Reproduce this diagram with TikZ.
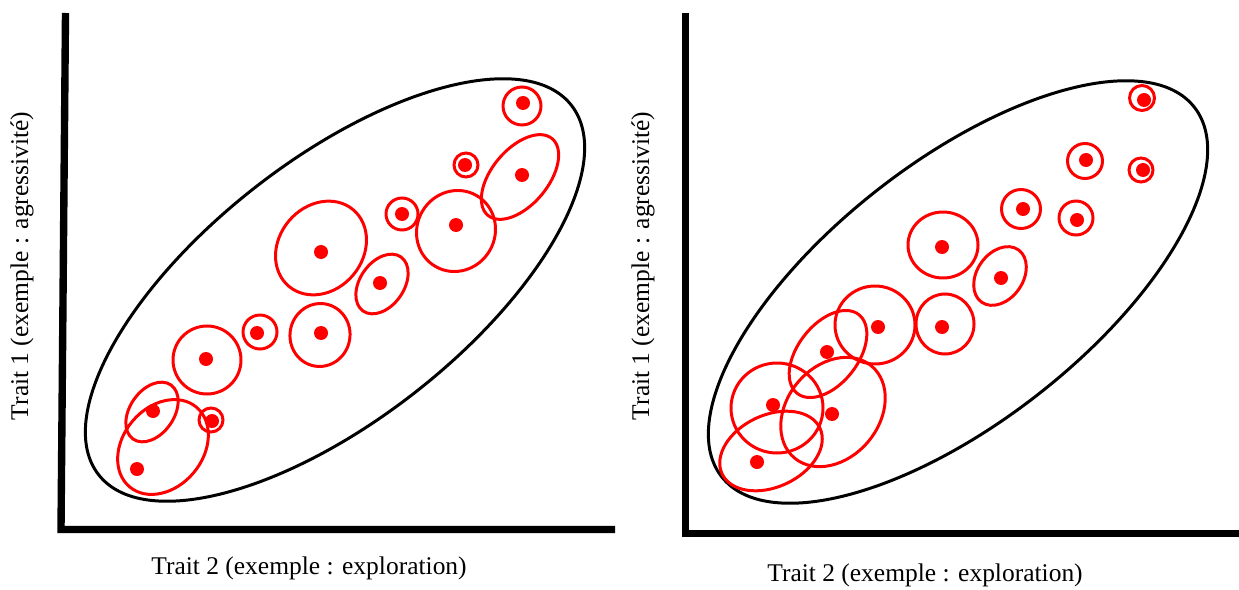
\documentclass[tikz,border=0pt]{standalone}
\usepackage{fontspec}
\setmainfont{Liberation Serif}
\usepackage{xcolor}
\usepackage{tikz}
\usetikzlibrary{calc,positioning}
\definecolor{rouge}{HTML}{FF0000}
\definecolor{noir}{HTML}{000000}
\tikzset{
  axe/.style={line width=4.2pt,noir,line join=miter},
  nuage/.style={line width=1.7pt,noir},
  indiv/.style={line width=1.7pt,rouge},
  pt/.style={fill=rouge},
  lbl/.style={font=\fontsize{14.5}{16}\selectfont,inner sep=0pt}
}

\begin{document}
\begin{tikzpicture}[x=0.02cm,y=0.02cm]
\useasboundingbox (0,0) rectangle (1239,589);
% panneau gauche
\draw[axe] (65.5,576) -- (61,59.5) -- (615,59.5);
\draw[nuage] (335,299) ellipse[x radius=300,y radius=130,rotate=38];
\draw[indiv] (522,483) circle (19);   \fill[pt] (523,486) circle (7);
\draw[indiv] (520,412) ellipse[x radius=50,y radius=28,rotate=50]; \fill[pt] (522,414) circle (7);
\draw[indiv] (466,424) circle (12);   \fill[pt] (465,424) circle (7);
\draw[indiv] (402,375) circle (16);   \fill[pt] (402,375) circle (7);
\draw[indiv] (456,358) ellipse[x radius=41,y radius=39,rotate=60]; \fill[pt] (456,364) circle (7);
\draw[indiv] (321,341) ellipse[x radius=50,y radius=42,rotate=50]; \fill[pt] (321,337) circle (7);
\draw[indiv] (382,305) ellipse[x radius=33,y radius=22,rotate=55]; \fill[pt] (380,306) circle (7);
\draw[indiv] (320,254) ellipse[x radius=31.5,y radius=30,rotate=80]; \fill[pt] (321,256) circle (7);
\draw[indiv] (260,257) circle (17);   \fill[pt] (257,256) circle (7);
\draw[indiv] (207,229) circle (34);   \fill[pt] (206,230) circle (7);
\draw[indiv] (152,177) ellipse[x radius=33,y radius=22,rotate=55]; \fill[pt] (153,178) circle (7);
\draw[indiv] (211,169) circle (12);   \fill[pt] (212,168) circle (7);
\draw[indiv] (163,142) ellipse[x radius=52,y radius=40,rotate=50]; \fill[pt] (137,120) circle (7);
\node[lbl,rotate=90] (traitA1) at (22,323) {Trait 1 (exemple~: agressivité)};
\node[lbl] (traitB1) at (309,21) {Trait 2 (exemple~: exploration)};
% panneau droit
\draw[axe] (685.5,576) -- (685.5,55.5) -- (1239,55.5);
\draw[nuage] (958,297) ellipse[x radius=300,y radius=130,rotate=38];
\draw[indiv] (1142,491) circle (12.5); \fill[pt] (1144,489) circle (7);
\draw[indiv] (1141,419) circle (12);   \fill[pt] (1143,419) circle (7);
\draw[indiv] (1085,428) circle (17.5); \fill[pt] (1086,429) circle (7);
\draw[indiv] (1021,380) circle (19.5); \fill[pt] (1023,380) circle (7);
\draw[indiv] (1076,371) circle (17);   \fill[pt] (1077,369) circle (7);
\draw[indiv] (943,344) ellipse[x radius=35,y radius=33]; \fill[pt] (942,342) circle (7);
\draw[indiv] (1000,313) ellipse[x radius=32,y radius=23,rotate=55]; \fill[pt] (1001,311) circle (7);
\draw[indiv] (945,265) ellipse[x radius=30,y radius=29,rotate=90]; \fill[pt] (942,262) circle (7);
\draw[indiv] (875,264) ellipse[x radius=40,y radius=39]; \fill[pt] (878,262) circle (7);
\draw[indiv] (828,235) ellipse[x radius=50,y radius=30,rotate=52]; \fill[pt] (827,237) circle (7);
\draw[indiv] (777,181) ellipse[x radius=46,y radius=45]; \fill[pt] (773,184) circle (7);
\draw[indiv] (833,177) ellipse[x radius=60,y radius=46,rotate=50]; \fill[pt] (832,175) circle (7);
\draw[indiv] (771,138) ellipse[x radius=54,y radius=36,rotate=25]; \fill[pt] (757,127) circle (7);
\node[lbl,rotate=90] (traitA2) at (643,323) {Trait 1 (exemple~: agressivité)};
\node[lbl] (traitB2) at (925,14) {Trait 2 (exemple~: exploration)};
\end{tikzpicture}
\end{document}
